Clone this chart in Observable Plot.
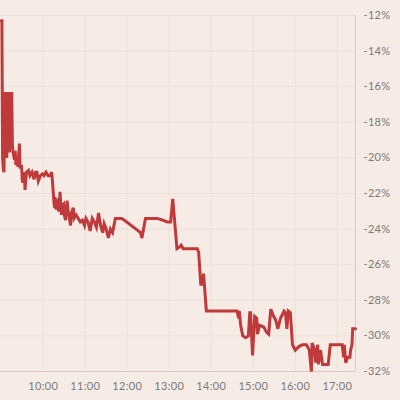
<!DOCTYPE html>
<html>
<head>
<meta charset="utf-8">
<script src="https://cdn.jsdelivr.net/npm/d3@7"></script>
<script src="https://cdn.jsdelivr.net/npm/@observablehq/plot@0.6"></script>
<style>
  html, body { margin: 0; padding: 0; background: #f6ebe5; }
  #chart { width: 400px; height: 400px; }
</style>
</head>
<body>
<div id="chart"></div>
<script>
const times = ["09:00","09:01","09:02","09:03","09:04","09:05","09:06","09:07","09:08","09:09","09:10","09:11","09:12","09:13","09:14","09:15","09:16","09:17","09:19","09:20","09:21","09:23","09:24","09:26","09:27","09:29","09:30","09:31","09:33","09:34","09:36","09:39","09:41","09:44","09:47","09:49","09:51","09:53","09:56","09:59","10:01","10:04","10:07","10:10","10:12","10:13","10:15","10:16","10:17","10:18","10:19","10:21","10:22","10:23","10:24","10:26","10:27","10:29","10:30","10:32","10:34","10:36","10:37","10:39","10:40","10:43","10:44","10:47","10:50","10:53","10:56","10:59","11:01","11:04","11:07","11:10","11:13","11:16","11:19","11:22","11:25","11:27","11:30","11:33","11:36","11:39","11:43","11:52","11:56","12:19","12:21","12:26","12:43","12:51","12:57","13:02","13:05","13:11","13:15","13:17","13:20","13:40","13:42","13:45","13:47","13:49","13:53","14:37","14:39","14:40","14:42","14:45","14:49","14:53","14:55","14:56","14:59","15:02","15:05","15:06","15:09","15:15","15:19","15:22","15:25","15:29","15:32","15:35","15:39","15:44","15:46","15:48","15:50","15:53","15:56","16:00","16:05","16:10","16:16","16:20","16:23","16:24","16:27","16:29","16:32","16:33","16:36","16:39","16:47","16:50","17:01","17:04","17:07","17:09","17:10","17:12","17:15","17:18","17:19","17:21","17:22","17:26"];
const values = [-12.3,-12.3,-20.0,-20.6,-20.8,-16.3,-19.8,-16.5,-20.0,-16.3,-19.5,-16.3,-19.7,-16.4,-18.5,-16.3,-19.3,-19.7,-20.1,-19.6,-20.4,-20.1,-20.5,-19.2,-20.6,-20.4,-21.2,-21.4,-20.8,-21.8,-20.8,-20.7,-21.0,-20.8,-21.2,-20.8,-20.8,-21.3,-21.0,-20.9,-21.0,-20.8,-21.0,-21.0,-20.8,-21.2,-22.3,-22.8,-22.2,-22.9,-22.5,-22.4,-23.0,-22.9,-21.9,-23.2,-22.7,-22.6,-23.2,-23.5,-22.4,-23.1,-23.3,-23.8,-23.1,-22.8,-23.4,-23.2,-23.4,-23.6,-23.5,-23.8,-23.4,-23.6,-24.1,-23.4,-23.6,-23.9,-23.1,-23.8,-24.2,-23.7,-24.0,-24.5,-24.0,-24.2,-23.4,-23.4,-23.5,-24.2,-24.5,-23.4,-23.4,-23.5,-23.6,-23.6,-22.3,-25.1,-25.0,-24.9,-25.1,-25.1,-25.3,-27.1,-27.1,-26.5,-28.6,-28.6,-29.0,-28.6,-29.4,-30.0,-30.1,-30.0,-28.7,-28.7,-31.1,-28.9,-29.0,-29.9,-29.4,-29.5,-29.8,-29.9,-28.5,-28.9,-29.1,-29.6,-29.0,-28.6,-28.7,-29.6,-28.6,-28.7,-30.5,-30.8,-30.6,-30.5,-30.5,-30.8,-32.0,-30.4,-30.7,-31.5,-30.5,-31.6,-30.8,-31.6,-31.6,-30.5,-30.5,-30.5,-30.5,-31.2,-30.5,-31.5,-31.2,-31.2,-30.8,-30.5,-29.6,-29.6];
const yTicks = [-12,-14,-16,-18,-20,-22,-24,-26,-28,-30,-32];
const xTickHours = [10,11,12,13,14,15,16,17];

const toDate = s => { const [h,m] = s.split(":").map(Number); return new Date(2020,0,1,h,m); };
const data = times.map((t,i) => ({time: toDate(t), value: values[i]}));
const xTicks = xTickHours.map(h => new Date(2020,0,1,h,0));

const chart = Plot.plot({
  width: 400,
  height: 400,
  marginLeft: 0,
  marginRight: 45,
  marginTop: 15,
  marginBottom: 29,
  style: {background: "#f6ebe5", fontFamily: "Lato, sans-serif", fontSize: "11px", color: "#7a7a7a", letterSpacing: "0.3px"},
  x: {type: "time", domain: [new Date(2020,0,1,8,59), new Date(2020,0,1,17,26)]},
  y: {domain: [-32, -12]},
  marks: [
    Plot.gridX(xTicks, {stroke: "#efe0d7", strokeOpacity: 1, strokeWidth: 1}),
    Plot.gridY(yTicks, {stroke: "#efe0d7", strokeOpacity: 1, strokeWidth: 1}),
    Plot.ruleY([-32], {stroke: "#dccac1"}),
    Plot.ruleX([new Date(2020,0,1,17,26)], {stroke: "#dccac1"}),
    Plot.axisX({ticks: xTicks, tickSize: 0, tickPadding: 11, tickFormat: d3.timeFormat("%H:%M"), fill: "#7a7a7a", label: null}),
    Plot.axisY({anchor: "right", ticks: yTicks, tickSize: 0, tickPadding: 8, textAnchor: "start", tickFormat: d => d + "%", fill: "#7a7a7a", label: null}),
    Plot.line(data, {x: "time", y: "value", stroke: "#c03a3b", strokeWidth: 3, strokeLinejoin: "miter", strokeMiterlimit: 4})
  ]
});
document.getElementById("chart").appendChild(chart);
</script>
</body>
</html>
